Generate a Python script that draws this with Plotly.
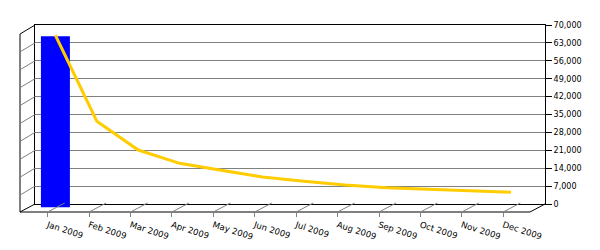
import plotly.graph_objects as go

months = ["Jan 2009", "Feb 2009", "Mar 2009", "Apr 2009", "May 2009", "Jun 2009",
          "Jul 2009", "Aug 2009", "Sep 2009", "Oct 2009", "Nov 2009", "Dec 2009"]
bar_values = [67000, None, None, None, None, None, None, None, None, None, None, None]
line_values = [66000, 32400, 21100, 15900, 13200, 10600, 8900, 7450, 6400, 5750, 5100, 4600]
y_ticks = list(range(0, 70001, 7000))

W, H = 600, 250
def px(x):
    return x / W
def py(y):
    return 1 - y / H

BACK_L, BACK_R, BACK_T, BACK_B = 35, 545, 25, 204
FRONT_L, FRONT_R, FRONT_B = 20, 530, 212
DX, DY = 15, 9

fig = go.Figure()
fig.add_trace(go.Scatter(x=months, y=line_values, xaxis="x", yaxis="y",
                         mode="lines", opacity=0, hoverinfo="skip", showlegend=False))
fig.add_trace(go.Scatter(x=months, y=line_values, xaxis="x2", yaxis="y4",
                         mode="lines", opacity=0, hoverinfo="skip", showlegend=False))
fig.add_trace(go.Bar(x=months, y=bar_values, xaxis="x3", yaxis="y2",
                     marker=dict(color="#0000FF", line=dict(width=0)), width=0.70,
                     showlegend=False))
fig.add_trace(go.Scatter(x=months, y=line_values, xaxis="x3", yaxis="y3",
                         mode="lines", line=dict(color="#FFCC00", width=3),
                         showlegend=False))

yr = [0, 70000]
fig.update_layout(
    template="none",
    width=W, height=H,
    margin=dict(l=0, r=0, t=0, b=0, pad=0, autoexpand=False),
    paper_bgcolor="white", plot_bgcolor="rgba(0,0,0,0)",
    font=dict(family="DejaVu Sans", size=8, color="#000000"),
    showlegend=False,
    xaxis=dict(domain=[px(BACK_L), px(BACK_R)], anchor="y", type="category",
               range=[-0.5, 11.5], showticklabels=False, ticks="", showgrid=False,
               showline=True, mirror=True, linecolor="#000000", linewidth=1,
               automargin=False, zeroline=False),
    yaxis=dict(domain=[py(BACK_B), py(BACK_T)], anchor="x", side="right", range=yr,
               tickvals=y_ticks, tickformat=",d", ticks="outside", ticklen=6,
               tickcolor="#000000", tickwidth=1, showgrid=True, gridcolor="#808080",
               gridwidth=1, zeroline=False, showline=True, mirror=True,
               linecolor="#000000", linewidth=1, automargin=False,
               tickfont=dict(family="DejaVu Sans", size=8, color="#000000")),
    xaxis2=dict(domain=[px(27), px(524)], anchor="free", position=py(FRONT_B),
                type="category", range=[-0.5, 11.5], tickangle=18, ticks="outside",
                ticklen=4, tickcolor="#808080", tickwidth=1, showgrid=False,
                showline=False, zeroline=False, automargin=False,
                tickfont=dict(family="DejaVu Sans", size=8.5, color="#000000")),
    xaxis3=dict(domain=[px(34.7), px(531.7)], anchor="y3", type="category",
                range=[-0.5, 11.5], visible=False, automargin=False),
    yaxis2=dict(domain=[py(BACK_B + 3.5), py(BACK_T + 3.5)], anchor="x3", range=yr,
                visible=False, automargin=False),
    yaxis3=dict(domain=[py(BACK_B), py(BACK_T)], anchor="x3", range=yr, visible=False,
                automargin=False),
    yaxis4=dict(domain=[py(BACK_B), py(BACK_T)], anchor="x2", range=yr, visible=False,
                automargin=False),
)

shapes = []
blk = dict(color="#000000", width=1)
gry = dict(color="#808080", width=1)
shapes.append(dict(type="line", xref="paper", yref="paper", x0=px(FRONT_L), x1=px(FRONT_L),
                   y0=py(BACK_T + DY), y1=py(FRONT_B), line=blk))
shapes.append(dict(type="line", xref="paper", yref="paper", x0=px(FRONT_L), x1=px(BACK_L),
                   y0=py(BACK_T + DY), y1=py(BACK_T), line=blk))
shapes.append(dict(type="line", xref="paper", yref="paper", x0=px(FRONT_L), x1=px(BACK_L),
                   y0=py(FRONT_B), y1=py(BACK_B), line=blk))
shapes.append(dict(type="line", xref="paper", yref="paper", x0=px(FRONT_L), x1=px(FRONT_R),
                   y0=py(FRONT_B), y1=py(FRONT_B), line=blk))
shapes.append(dict(type="line", xref="paper", yref="paper", x0=px(FRONT_R), x1=px(BACK_R),
                   y0=py(FRONT_B), y1=py(BACK_B), line=blk))
for v in y_ticks[1:-1]:
    shapes.append(dict(type="line", xref="paper", yref="y", ysizemode="pixel", yanchor=v,
                       x0=px(BACK_L), x1=px(FRONT_L), y0=0, y1=-DY, line=gry))
for i in range(len(months)):
    shapes.append(dict(type="line", xref="x2", xsizemode="pixel", xanchor=i, x0=0, x1=17,
                       yref="paper", ysizemode="pixel", yanchor=py(FRONT_B), y0=0, y1=DY,
                       line=gry))
fig.update_layout(shapes=shapes)

fig.write_html("out.html")
